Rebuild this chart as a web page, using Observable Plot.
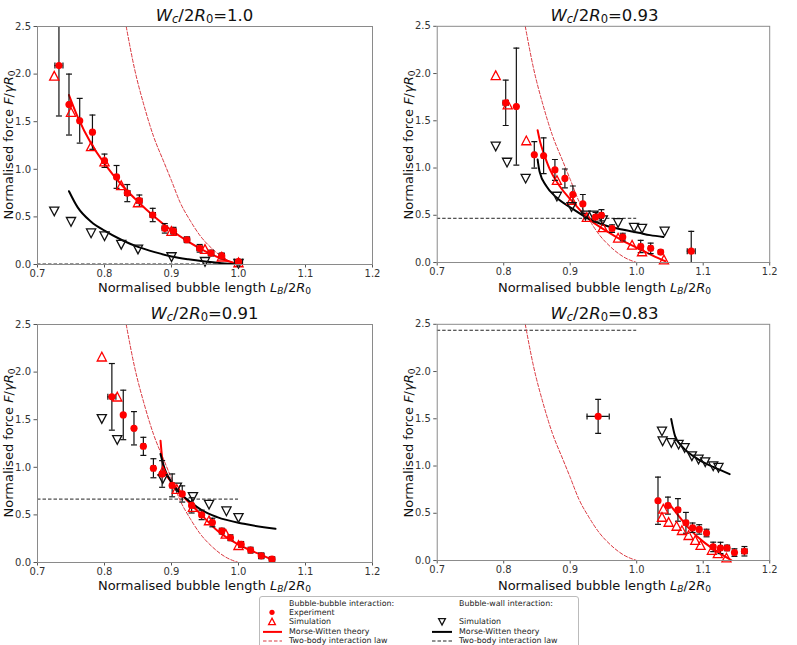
<!DOCTYPE html>
<html>
<head>
<meta charset="utf-8">
<script src="https://cdn.jsdelivr.net/npm/d3@7"></script>
<script src="https://cdn.jsdelivr.net/npm/@observablehq/plot@0.6"></script>
<style>
  html, body { margin: 0; padding: 0; background: white; }
  #root { position: relative; width: 797px; height: 645px; overflow: hidden; background: white; font-family: "DejaVu Sans", sans-serif; color: #222; }
  .panel { position: absolute; }
  .title { position: absolute; font-size: 16.5px; white-space: nowrap; transform: translate(-50%, -50%); color: #111; }
  .xlab { position: absolute; font-size: 13px; white-space: nowrap; transform: translate(-50%, -50%); color: #111; }
  .ylab { position: absolute; font-size: 13px; white-space: nowrap; transform: translate(-50%, -50%) rotate(-90deg); color: #111; }
  sub { font-size: 0.7em; vertical-align: -0.25em; line-height: 0; }
  #legend { position: absolute; left: 259px; top: 596px; width: 320px; height: 70px; border: 1px solid #bbb; border-radius: 3px; background: white; box-sizing: border-box; }
</style>
</head>
<body>
<div id="root"></div>
<script>
// ---------------- data ----------------
const xTicks = [0.7, 0.8, 0.9, 1.0, 1.1, 1.2];
const yTicks = [0.0, 0.5, 1.0, 1.5, 2.0, 2.5];
const panelTitles = ["1.0", "0.93", "0.91", "0.83"];

// two-body interaction law (bubble-bubble), same in all panels
const twoBodyX = [0.8324, 0.845, 0.859, 0.873, 0.889, 0.900, 0.913, 0.928, 0.943, 0.960, 0.980, 1.000];
const twoBodyY = [2.50, 2.05, 1.67, 1.35, 1.07, 0.88, 0.65, 0.46, 0.30, 0.17, 0.06, 0.00];
// two-body interaction law (bubble-wall), horizontal level per panel
const wallLawRange = [0.7, 1.0];
const wallLaw = [0.005, 0.468, 0.666, 2.437];

// Panel 1: Wc/2R0 = 1.0
const exp1X = [0.732, 0.747, 0.763, 0.782, 0.800, 0.818, 0.834, 0.852, 0.872, 0.890, 0.903, 0.923, 0.942, 0.959, 0.975, 1.000];
const exp1Y = [2.09, 1.68, 1.51, 1.39, 1.09, 0.92, 0.75, 0.67, 0.52, 0.38, 0.35, 0.26, 0.17, 0.12, 0.09, 0.03];
const exp1Err = [0.53, 0.32, 0.235, 0.18, 0.07, 0.12, 0.09, 0.06, 0.07, 0.05, 0.04, 0.03, 0.04, 0.03, 0.03, 0.02];
const exp1XErr = [0.006, 0.002, 0.002, 0.002, 0.003, 0.003, 0.004, 0.004, 0.004, 0.004, 0.004, 0.004, 0.004, 0.004, 0.004, 0.006];
const sim1X = [0.725, 0.750, 0.780, 0.800, 0.825, 0.850, 0.900, 0.950, 0.975, 1.000];
const sim1Y = [1.98, 1.60, 1.24, 1.08, 0.83, 0.65, 0.35, 0.16, 0.08, 0.02];
const wall1X = [0.725, 0.750, 0.780, 0.800, 0.825, 0.850, 0.900, 0.950, 1.000];
const wall1Y = [0.56, 0.45, 0.33, 0.30, 0.21, 0.16, 0.08, 0.03, 0.01];
const mwBB1X = [0.747, 0.760, 0.780, 0.800, 0.825, 0.850, 0.875, 0.900, 0.925, 0.950, 0.975, 1.000];
const mwBB1Y = [1.78, 1.55, 1.27, 1.06, 0.84, 0.66, 0.50, 0.36, 0.24, 0.14, 0.06, 0.00];
const mwW1X = [0.747, 0.760, 0.780, 0.800, 0.825, 0.850, 0.875, 0.900, 0.925, 0.950, 0.975, 1.000];
const mwW1Y = [0.77, 0.60, 0.45, 0.355, 0.26, 0.185, 0.13, 0.085, 0.055, 0.032, 0.014, 0.00];

// Panel 2: Wc/2R0 = 0.93
const exp2X = [0.803, 0.819, 0.846, 0.860, 0.877, 0.892, 0.904, 0.919, 0.938, 0.947, 0.963, 0.979, 1.006, 1.021, 1.036, 1.082];
const exp2Y = [1.69, 1.65, 1.14, 1.13, 0.98, 0.89, 0.72, 0.62, 0.48, 0.50, 0.36, 0.27, 0.17, 0.15, 0.11, 0.12];
const exp2Err = [0.24, 0.62, 0.14, 0.19, 0.11, 0.10, 0.09, 0.10, 0.05, 0.06, 0.04, 0.04, 0.065, 0.055, 0.02, 0.21];
const exp2XErr = [0.004, 0.002, 0.002, 0.002, 0.002, 0.002, 0.002, 0.002, 0.003, 0.003, 0.003, 0.003, 0.003, 0.003, 0.003, 0.006];
const sim2X = [0.788, 0.806, 0.834, 0.880, 0.902, 0.925, 0.949, 0.972, 0.993, 1.008, 1.041];
const sim2Y = [1.98, 1.67, 1.29, 0.87, 0.66, 0.48, 0.37, 0.26, 0.185, 0.115, 0.03];
const wall2X = [0.788, 0.805, 0.833, 0.880, 0.902, 0.923, 0.935, 0.949, 0.972, 0.996, 1.008, 1.042];
const wall2Y = [1.23, 1.06, 0.89, 0.70, 0.59, 0.50, 0.50, 0.45, 0.42, 0.37, 0.36, 0.33];
const mwBB2X = [0.851, 0.855, 0.860, 0.869, 0.884, 0.904, 0.928, 0.953, 0.978, 1.003, 1.028, 1.043];
const mwBB2Y = [1.40, 1.27, 1.16, 0.99, 0.81, 0.64, 0.46, 0.34, 0.235, 0.147, 0.06, 0.014];
const mwW2X = [0.851, 0.854, 0.864, 0.879, 0.904, 0.928, 0.953, 0.978, 1.003, 1.020, 1.040];
const mwW2Y = [1.09, 0.96, 0.81, 0.69, 0.567, 0.462, 0.392, 0.35, 0.315, 0.29, 0.27];

// Panel 3: Wc/2R0 = 0.91
const exp3X = [0.811, 0.828, 0.844, 0.858, 0.873, 0.886, 0.901, 0.916, 0.930, 0.945, 0.961, 0.975, 0.988, 1.004, 1.018, 1.034, 1.050];
const exp3Y = [1.74, 1.55, 1.41, 1.22, 0.99, 0.93, 0.81, 0.72, 0.60, 0.50, 0.42, 0.33, 0.26, 0.19, 0.13, 0.07, 0.035];
const exp3Err = [0.35, 0.26, 0.175, 0.095, 0.10, 0.14, 0.12, 0.085, 0.08, 0.05, 0.045, 0.03, 0.03, 0.03, 0.03, 0.03, 0.02];
const exp3XErr = [0.006, 0.002, 0.002, 0.003, 0.003, 0.003, 0.003, 0.003, 0.003, 0.003, 0.003, 0.003, 0.003, 0.003, 0.003, 0.004, 0.004];
const sim3X = [0.796, 0.819, 0.887, 0.908, 0.932, 0.956, 0.981, 1.000];
const sim3Y = [2.16, 1.74, 0.96, 0.77, 0.58, 0.44, 0.30, 0.18];
const wall3X = [0.796, 0.819, 0.887, 0.908, 0.932, 0.956, 0.982, 1.000];
const wall3Y = [1.51, 1.29, 0.88, 0.79, 0.69, 0.61, 0.54, 0.47];
const mwBB3X = [0.8836, 0.8860, 0.8886, 0.8960, 0.9035, 0.9184, 0.9433, 0.9682, 0.998, 1.0279, 1.0527];
const mwBB3Y = [1.28, 1.10, 0.97, 0.88, 0.81, 0.686, 0.511, 0.336, 0.196, 0.098, 0.021];
const mwW3X = [0.8836, 0.8900, 0.8985, 0.9100, 0.9284, 0.9450, 0.9682, 1.008, 1.0552];
const mwW3Y = [1.14, 0.98, 0.86, 0.75, 0.634, 0.55, 0.476, 0.406, 0.354];

// Panel 4: Wc/2R0 = 0.83
const exp4X = [0.942, 1.032, 1.047, 1.062, 1.074, 1.084, 1.094, 1.105, 1.115, 1.126, 1.136, 1.147, 1.162];
const exp4Y = [1.525, 0.633, 0.581, 0.536, 0.399, 0.347, 0.329, 0.291, 0.144, 0.133, 0.133, 0.084, 0.098];
const exp4Err = [0.18, 0.25, 0.09, 0.12, 0.11, 0.05, 0.05, 0.04, 0.05, 0.06, 0.03, 0.04, 0.05];
const exp4XErr = [0.0167, 0.002, 0.003, 0.003, 0.003, 0.003, 0.003, 0.003, 0.003, 0.003, 0.003, 0.003, 0.004];
const sim4X = [1.040, 1.038, 1.048, 1.060, 1.068, 1.078, 1.088, 1.096, 1.113, 1.122, 1.135];
const sim4Y = [0.546, 0.459, 0.406, 0.364, 0.319, 0.266, 0.214, 0.161, 0.108, 0.074, 0.028];
const wall4X = [1.038, 1.039, 1.052, 1.063, 1.072, 1.083, 1.093, 1.103, 1.115, 1.123];
const wall4Y = [1.369, 1.264, 1.247, 1.229, 1.194, 1.106, 1.071, 1.043, 1.001, 0.984];
const mwBB4X = [1.0478, 1.060, 1.080, 1.100, 1.120, 1.1423];
const mwBB4Y = [0.609, 0.50, 0.33, 0.20, 0.10, 0.003];
const mwW4X = [1.0518, 1.0577, 1.0676, 1.0800, 1.0925, 1.115, 1.1398];
const mwW4Y = [1.499, 1.316, 1.211, 1.13, 1.071, 0.99, 0.914];

const legendLeft = ["Bubble-bubble interaction:", "Experiment", "Simulation", "Morse-Witten theory", "Two-body interaction law"];
const legendRight = ["Bubble-wall interaction:", "", "Simulation", "Morse-Witten theory", "Two-body interaction law"];

// ---------------- build ----------------
const zip = (xs, ys) => xs.map((x, i) => ({x, y: ys[i]}));
const panels = [
  {exp: [exp1X, exp1Y, exp1Err, exp1XErr], sim: zip(sim1X, sim1Y), wall: zip(wall1X, wall1Y), mwBB: zip(mwBB1X, mwBB1Y), mwW: zip(mwW1X, mwW1Y)},
  {exp: [exp2X, exp2Y, exp2Err, exp2XErr], sim: zip(sim2X, sim2Y), wall: zip(wall2X, wall2Y), mwBB: zip(mwBB2X, mwBB2Y), mwW: zip(mwW2X, mwW2Y)},
  {exp: [exp3X, exp3Y, exp3Err, exp3XErr], sim: zip(sim3X, sim3Y), wall: zip(wall3X, wall3Y), mwBB: zip(mwBB3X, mwBB3Y), mwW: zip(mwW3X, mwW3Y)},
  {exp: [exp4X, exp4Y, exp4Err, exp4XErr], sim: zip(sim4X, sim4Y), wall: zip(wall4X, wall4Y), mwBB: zip(mwBB4X, mwBB4Y), mwW: zip(mwW4X, mwW4Y)}
];
const twoBody = zip(twoBodyX, twoBodyY);

// custom symbols
const rOf = size => Math.sqrt(size / Math.PI);
const hcap = {draw(ctx, size) { const r = rOf(size); ctx.moveTo(-r, 0); ctx.lineTo(r, 0); }};
const vcap = {draw(ctx, size) { const r = rOf(size); ctx.moveTo(0, -r); ctx.lineTo(0, r); }};
const triUp = {draw(ctx, size) { const r = rOf(size); ctx.moveTo(0, -r); ctx.lineTo(-r, r * 0.9); ctx.lineTo(r, r * 0.9); ctx.closePath(); }};
const triDown = {draw(ctx, size) { const r = rOf(size); ctx.moveTo(0, r); ctx.lineTo(-r, -r * 0.9); ctx.lineTo(r, -r * 0.9); ctx.closePath(); }};

const W = 400, H = 300, ML = 37, MR = 28, MT = 26, MB = 36;
const fmt = d3.format(".1f");
const errColor = "#111";

function makePanel(p, i) {
  const [ex, ey, ee, exe] = p.exp;
  const exp = ex.map((x, j) => ({x, y: ey[j], ye: ee[j], xe: exe[j]}));
  return Plot.plot({
    width: W, height: H, marginLeft: ML, marginRight: MR, marginTop: MT, marginBottom: MB,
    x: {domain: [0.7, 1.2]},
    y: {domain: [0, 2.5]},
    style: {fontFamily: "DejaVu Sans, sans-serif", fontSize: "10px", color: "#333", background: "white", overflow: "visible"},
    marks: [
      Plot.ruleY([wallLaw[i]], {x1: wallLawRange[0], x2: wallLawRange[1], stroke: "#222", strokeWidth: 1, strokeDasharray: "3.5,2", clip: true}),
      Plot.line(twoBody, {x: "x", y: "y", stroke: "#d9363e", strokeWidth: 1, strokeDasharray: "3.5,2", curve: "monotone-x", clip: true}),
      Plot.line(p.mwBB, {x: "x", y: "y", stroke: "red", strokeWidth: 2, curve: "monotone-x", clip: true}),
      Plot.line(p.mwW, {x: "x", y: "y", stroke: "black", strokeWidth: 2, curve: "monotone-x", clip: true}),
      Plot.ruleX(exp, {x: "x", y1: d => d.y - d.ye, y2: d => d.y + d.ye, stroke: errColor, strokeWidth: 1.2, clip: true}),
      Plot.ruleY(exp, {y: "y", x1: d => d.x - d.xe, x2: d => d.x + d.xe, stroke: errColor, strokeWidth: 1.2, clip: true}),
      Plot.dot(exp, {x: "x", y: d => d.y + d.ye, symbol: hcap, r: 3, stroke: errColor, strokeWidth: 1.2, clip: true}),
      Plot.dot(exp, {x: "x", y: d => d.y - d.ye, symbol: hcap, r: 3, stroke: errColor, strokeWidth: 1.2, clip: true}),
      Plot.dot(exp, {x: d => d.x - d.xe, y: "y", symbol: vcap, r: 3, stroke: errColor, strokeWidth: 1.2, clip: true}),
      Plot.dot(exp, {x: d => d.x + d.xe, y: "y", symbol: vcap, r: 3, stroke: errColor, strokeWidth: 1.2, clip: true}),
      Plot.dot(p.sim, {x: "x", y: "y", symbol: triUp, r: 4.6, stroke: "red", fill: "none", strokeWidth: 1.3}),
      Plot.dot(p.wall, {x: "x", y: "y", symbol: triDown, r: 4.6, stroke: "#111", fill: "none", strokeWidth: 1.3}),
      Plot.dot(exp, {x: "x", y: "y", r: 3.6, fill: "red", stroke: "none"}),
      Plot.axisX({ticks: xTicks, tickFormat: fmt, tickSize: 3.5, tickPadding: 2, label: null, stroke: "#555"}),
      Plot.axisY({ticks: yTicks, tickFormat: fmt, tickSize: 3.5, tickPadding: 3, label: null, stroke: "#555"}),
      Plot.frame({stroke: "#8a8a8a", strokeWidth: 1})
    ]
  });
}

const root = document.getElementById("root");
const positions = [[0, 0], [400, 0], [0, 298], [400, 298]];
panels.forEach((p, i) => {
  const [left, top] = positions[i];
  const wrap = document.createElement("div");
  wrap.className = "panel";
  wrap.style.left = left + "px";
  wrap.style.top = top + "px";
  wrap.appendChild(makePanel(p, i));
  root.appendChild(wrap);

  const cx = left + ML + (W - ML - MR) / 2;
  const t = document.createElement("div");
  t.className = "title";
  t.style.left = cx + "px";
  t.style.top = (top + 15) + "px";
  t.innerHTML = `<i>W</i><sub><i>c</i></sub>/2<i>R</i><sub>0</sub>=${panelTitles[i]}`;
  root.appendChild(t);

  const xl = document.createElement("div");
  xl.className = "xlab";
  xl.style.left = cx + "px";
  xl.style.top = (top + 287) + "px";
  xl.innerHTML = `Normalised bubble length <i>L</i><sub><i>B</i></sub>/2<i>R</i><sub>0</sub>`;
  root.appendChild(xl);

  const yl = document.createElement("div");
  yl.className = "ylab";
  yl.style.left = (left + 8) + "px";
  yl.style.top = (top + MT + (H - MT - MB) / 2) + "px";
  yl.innerHTML = `Normalised force <i>F</i>/<i>γR</i><sub>0</sub>`;
  root.appendChild(yl);
});

// ---------------- legend ----------------
const leg = document.createElement("div");
leg.id = "legend";
root.appendChild(leg);
const svg = d3.select(leg).append("svg").attr("width", 320).attr("height", 70).style("position", "absolute").style("left", "-1px").style("top", "-1px");
const rowY = [7.0, 16.3, 25.6, 34.9, 44.0];
const leftTextX = 30, rightTextX = 200;
const legFont = 7.9;
legendLeft.forEach((s, k) => svg.append("text").attr("x", leftTextX).attr("y", rowY[k]).attr("dy", "0.35em")
  .attr("font-family", "DejaVu Sans, sans-serif").attr("font-size", legFont).attr("fill", "#222").text(s));
legendRight.forEach((s, k) => { if (s) svg.append("text").attr("x", rightTextX).attr("y", rowY[k]).attr("dy", "0.35em")
  .attr("font-family", "DejaVu Sans, sans-serif").attr("font-size", legFont).attr("fill", "#222").text(s); });
// left markers
svg.append("circle").attr("cx", 13).attr("cy", rowY[1]).attr("r", 2.6).attr("fill", "red");
svg.append("path").attr("d", d3.symbol(triUp, Math.PI * 3.4 * 3.4)()).attr("transform", `translate(13,${rowY[2]})`).attr("fill", "none").attr("stroke", "red").attr("stroke-width", 1.3);
svg.append("line").attr("x1", 4).attr("x2", 23).attr("y1", rowY[3] + 1).attr("y2", rowY[3] + 1).attr("stroke", "red").attr("stroke-width", 2);
svg.append("line").attr("x1", 4).attr("x2", 23).attr("y1", rowY[4] + 1).attr("y2", rowY[4] + 1).attr("stroke", "#d9363e").attr("stroke-width", 1).attr("stroke-dasharray", "3.5,2");
// right markers
svg.append("path").attr("d", d3.symbol(triDown, Math.PI * 3.4 * 3.4)()).attr("transform", `translate(183,${rowY[2]})`).attr("fill", "none").attr("stroke", "#111").attr("stroke-width", 1.3);
svg.append("line").attr("x1", 173).attr("x2", 193).attr("y1", rowY[3] + 1).attr("y2", rowY[3] + 1).attr("stroke", "black").attr("stroke-width", 2);
svg.append("line").attr("x1", 173).attr("x2", 193).attr("y1", rowY[4] + 1).attr("y2", rowY[4] + 1).attr("stroke", "#222").attr("stroke-width", 1).attr("stroke-dasharray", "3.5,2");
</script>
</body>
</html>
